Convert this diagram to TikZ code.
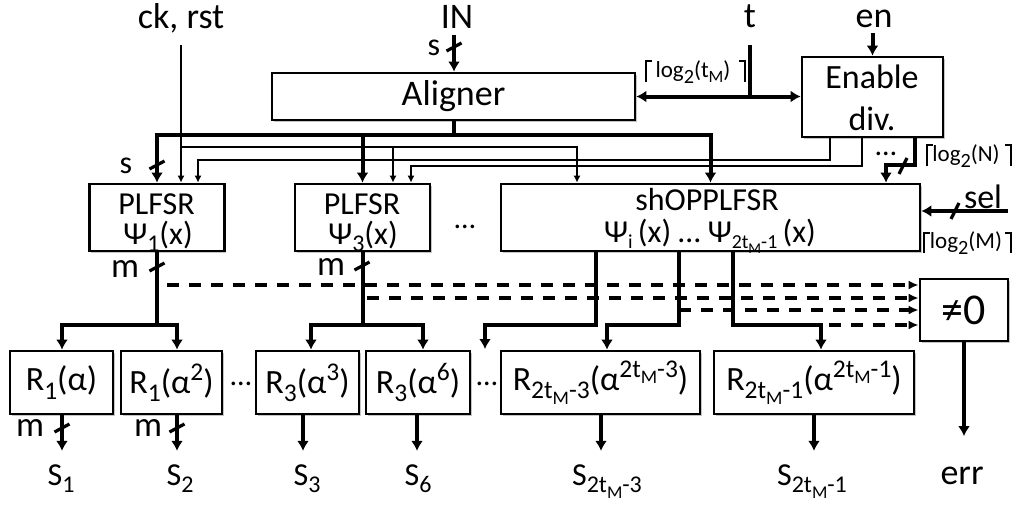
\documentclass[tikz,border=0pt]{standalone}
\usepackage{fontspec}
\setmainfont{Carlito}
\usetikzlibrary{arrows.meta,calc,shadows}

% lowered / raised small text for indices and exponents
\newcommand\dn[1]{\raisebox{-0.5ex}{\scalebox{0.75}{#1}}}
\newcommand\dns[1]{\raisebox{-0.45ex}{\scalebox{0.62}{#1}}}
\newcommand\up[1]{\raisebox{0.8ex}{\scalebox{0.75}{#1}}}
\newcommand\dl[1]{\raisebox{-0.55ex}{\scalebox{0.88}{#1}}}
\newcommand\fs[1]{\fontsize{#1}{#1}\selectfont}

\tikzset{
  vslash/.pic={\draw[line width=1.6pt] (-7.5,4) -- (7.5,-4);},
  hslash/.pic={\draw[line width=1.6pt] (-4,8) -- (4,-8);},
}

\begin{document}
\begin{tikzpicture}[x=0.5pt,y=-0.5pt,
  box/.style={draw,line width=1.4pt,fill=white,inner sep=0pt,
    drop shadow={shadow xshift=0.9pt,shadow yshift=-0.9pt,fill=black!45,opacity=0.5}},
  rbox/.style={box,minimum height=31.5pt,font=\fs{17pt}},
  pbox/.style={box,minimum height=33.5pt},
  line/.style={inner sep=0pt,anchor=base,font=\fs{16pt}},
  bus/.style={line width=2pt},
  ar/.style={-{Latex[length=5pt,width=6pt]}},
  arr/.style={{Latex[length=5pt,width=6pt]}-{Latex[length=5pt,width=6pt]}},
  sig/.style={line width=0.6pt},
  sar/.style={-{Latex[length=3.5pt,width=3.5pt]}},
  dsh/.style={line width=1.6pt,dash pattern=on 6pt off 5pt,-{Latex[length=5pt,width=4.5pt]}},
  lbl/.style={inner sep=0pt,font=\fs{17.5pt}},
  lg/.style={inner sep=0pt,font=\fs{11.5pt}},
  brk/.style={line width=0.7pt},
  dots/.style={inner sep=0pt,font=\fs{15pt},text height=1.5pt,text depth=0pt},
]
\useasboundingbox (0,0) rectangle (1016,504);

% ---------------- blocks ----------------
\node[box,minimum width=181.5pt,minimum height=23.5pt,font=\fs{18pt}] (aligner) at (453.5,96.5) {Aligner};

\node[box,minimum width=70.5pt,minimum height=40pt] (enable) at (872.5,97) {};
\node[line,font=\fs{17pt}] (enableA) at (872,88) {Enable};
\node[line,font=\fs{17pt}] (enableB) at (872,130) {div.};

\node[pbox,minimum width=67.5pt] (p1) at (157,217.5) {};
\node[line] (p1a) at (156.5,214) {PLFSR};
\node[line] (p1b) at (158,244) {Ψ\dn{1}(x)};

\node[pbox,minimum width=67.5pt] (p3) at (362.5,217.5) {};
\node[line] (p3a) at (362,214) {PLFSR};
\node[line] (p3b) at (363,244) {Ψ\dn{3}(x)};

\node[pbox,minimum width=209.5pt] (shop) at (710.5,217.5) {};
\node[line] (shopA) at (707,210) {shOPPLFSR};
\node[line] (shopB) at (710,242) {Ψ\dns{i}\,(x) \ldots\ Ψ\dns{2t\dn{M}-1}\,(x)};

\node[box,minimum width=44pt,minimum height=31pt,font=\fs{22pt}] (nz) at (964,310) {≠0};

\node[rbox,minimum width=51.5pt] (r1) at (61.5,382.5) {R\dn{1}(α)};
\node[rbox,minimum width=50.5pt] (r2) at (171.5,382.5) {R\dn{1}(α\up{2})};
\node[rbox,minimum width=51.5pt] (r3) at (307.5,382.5) {R\dn{3}(α\up{3})};
\node[rbox,minimum width=52pt] (r6) at (418,382.5) {R\dn{3}(α\up{6})};
\node[rbox,minimum width=99.5pt] (rA) at (600.5,382.5) {R\dn{2t\dn{M}-3}(α\up{2t\dn{M}-3})};
\node[rbox,minimum width=100pt] (rB) at (814,382.5) {R\dn{2t\dn{M}-1}(α\up{2t\dn{M}-1})};

% ---------------- external labels ----------------
\node[lbl,font=\fs{18pt},anchor=base] (ck) at (181,28) {ck, rst};
\node[lbl,font=\fs{18pt},anchor=base] (in) at (457,28) {IN};
\node[lbl,font=\fs{18pt},anchor=base] (t) at (750,27) {t};
\node[lbl,font=\fs{18pt},anchor=base] (en) at (874,27) {en};
\node[lbl,font=\fs{17pt}] (sel) at (983,197) {sel};
\node[lbl,anchor=base,font=\fs{18pt}] (err) at (962,484) {err};

\node[lbl,font=\fs{16pt},anchor=base] (s1) at (61,485) {S\dn{1}};
\node[lbl,font=\fs{16pt},anchor=base] (s2) at (180,485) {S\dn{2}};
\node[lbl,font=\fs{16pt},anchor=base] (s3) at (307,485) {S\dn{3}};
\node[lbl,font=\fs{16pt},anchor=base] (s6) at (418,485) {S\dn{6}};
\node[lbl,font=\fs{16pt},anchor=base] (sA) at (607,485) {S\dn{2t\dn{M}-3}};
\node[lbl,font=\fs{16pt},anchor=base] (sB) at (812,485) {S\dn{2t\dn{M}-1}};

% bus width labels
\node[lbl,font=\fs{16pt}] (wIn) at (434,48) {s};
\node[lbl,font=\fs{16pt}] (wP1in) at (126,166) {s};
\node[lbl,font=\fs{17.5pt}] (wP1) at (125,269) {m};
\node[lbl,font=\fs{17.5pt}] (wP3) at (331,267) {m};
\node[lbl,font=\fs{17.5pt}] (wR1) at (30,428) {m};
\node[lbl,font=\fs{17.5pt}] (wR2) at (148,428) {m};

% field widths, with ceiling brackets
\node[lg] (lgT) at (693,72) {log\dl{2}(t\dn{M})};
\draw[brk] (646,82) -- (646,61) -- (652,61);
\draw[brk] (745,82) -- (745,61) -- (739,61);
\node[lg] (lgN) at (966,156) {log\dl{2}(N)};
\draw[brk] (927,166) -- (927,145) -- (933,145);
\draw[brk] (1011,166) -- (1011,145) -- (1005,145);
\node[lg] (lgM) at (966,243) {log\dl{2}(M)};
\draw[brk] (924,253) -- (924,233) -- (930,233);
\draw[brk] (1011,253) -- (1011,233) -- (1005,233);

% ellipses
\node[dots] (e1) at (465,227) {\ldots};
\node[dots] (e2) at (241,384) {\ldots};
\node[dots] (e3) at (487,384) {\ldots};
\node[dots] (e4) at (886,154) {\ldots};

% ---------------- dashed lines to the zero detector ----------------
\coordinate (d1) at (0,285);
\coordinate (d2) at (0,298);
\coordinate (d3) at (0,310);
\coordinate (d4) at (0,325);
\coordinate (o1) at ($(shop.south)+(-114.5,0)$);
\coordinate (o2) at ($(shop.south)+(-31.5,0)$);
\coordinate (o3) at ($(shop.south)+(22.5,0)$);
\draw[dsh] ($(p1.south |- d1)+(10,0)$) -- (nz.west |- d1);
\draw[dsh] ($(p3.south |- d2)+(4,0)$) -- (nz.west |- d2);
\draw[dsh] (o2 |- d3) -- (nz.west |- d3);
\draw[dsh] ($(o3 |- d4)+(96,0)$) -- (nz.west |- d4);

% ---------------- inputs ----------------
\coordinate (inTop) at (454,35);
\draw[bus,ar] (inTop) -- (inTop |- aligner.north);
\pic at (454,47) {vslash};
\coordinate (enTop) at (872.5,33);
\draw[bus,ar] (enTop) -- (enable.north);
\coordinate (tTop) at (750,45);
\draw[bus] (tTop) -- (tTop |- aligner.east);
\draw[bus,arr] (aligner.east) -- (aligner.east -| enable.west);

% ---------------- aligner output bus ----------------
\coordinate (busY) at (0,135);
\draw[bus,ar] (aligner.south) |- (p1.north |- busY) -- (p1.north);
\draw[bus,ar] (aligner.south |- busY) -| (shop.north);
\draw[bus,ar] (p3.north |- busY) -- (p3.north);
\pic at (157,165) {vslash};

% ---------------- clock / reset and enables ----------------
\coordinate (ckTop) at (181,45);
\coordinate (ckY) at (0,147);
\coordinate (enY1) at (0,160);
\coordinate (enY2) at (0,166);
\draw[sig,sar] (ckTop) -- (ckTop |- p1.north);
\draw[sig,sar] (ckTop |- ckY) -| ($(p3.north)+(30.5,0)$);
\draw[sig,sar] (ckTop |- ckY) -| ($(shop.north)+(-133.5,0)$);
\draw[sig,sar] ($(enable.south)+(-42.5,0)$) |- ($(p1.north |- enY1)+(41,0)$) -- ($(p1.north)+(41,0)$);
\draw[sig,sar] ($(enable.south)+(-10.5,0)$) |- ($(p3.north |- enY2)+(48.5,0)$) -- ($(p3.north)+(48.5,0)$);

% enable divider control bus
\draw[bus,ar] ($(enable.south)+(42.5,0)$) |- ($(shop.north)+(175.5,-18)$) -- ($(shop.north)+(175.5,0)$);
\pic at (903,166) {hslash};

% polynomial selection
\coordinate (selR) at (1008,211);
\draw[bus,ar] (selR) -- (selR -| shop.east);
\pic at (955,211) {hslash};

% ---------------- LFSR outputs to the evaluators ----------------
\coordinate (by) at (0,325);
\draw[bus] (p1.south) -- (p1.south |- by);
\draw[bus,ar] (p1.south |- by) -| ($(r1.north)+(0.5,0)$);
\draw[bus,ar] (p1.south |- by) -| ($(r2.north)+(5.5,0)$);
\pic at (157,267) {vslash};

\draw[bus] (p3.south) -- (p3.south |- by);
\draw[bus,ar] (p3.south |- by) -| ($(r3.north)+(3.5,0)$);
\draw[bus,ar] (p3.south |- by) -| ($(r6.north)+(5,0)$);
\pic at (362,266) {vslash};

\coordinate (more) at (485,349);
\draw[bus,ar] (o1) |- (more |- by) -- (more);
\draw[bus,ar] (o2) |- ($(rA.north |- by)+(6.5,0)$) -- ($(rA.north)+(6.5,0)$);
\draw[bus,ar] (o3) |- ($(rB.north |- by)+(7,0)$) -- ($(rB.north)+(7,0)$);

% ---------------- syndrome outputs ----------------
\draw[bus,ar,shorten >=6.5pt] ($(r1.south)+(0.5,0)$) -- ($(r1.south |- s1.north)+(0.5,0)$);
\draw[bus,ar,shorten >=6.5pt] ($(r2.south)+(5.5,0)$) -- ($(r2.south |- s2.north)+(5.5,0)$);
\draw[bus,ar,shorten >=6.5pt] ($(r3.south)+(-4.5,0)$) -- ($(r3.south |- s3.north)+(-4.5,0)$);
\draw[bus,ar,shorten >=6.5pt] ($(r6.south)+(-1,0)$) -- ($(r6.south |- s6.north)+(-1,0)$);
\draw[bus,ar,shorten >=6.5pt] ($(rA.south)+(0.5,0)$) -- ($(rA.south |- sA.north)+(0.5,0)$);
\draw[bus,ar,shorten >=6.5pt] (rB.south) -- (rB.south |- sB.north);
\pic at (62,428) {vslash};
\pic at (177,428) {vslash};

% error flag
\draw[bus,ar,shorten >=15pt] (nz.south) -- (nz.south |- err.north);
\end{tikzpicture}
\end{document}
